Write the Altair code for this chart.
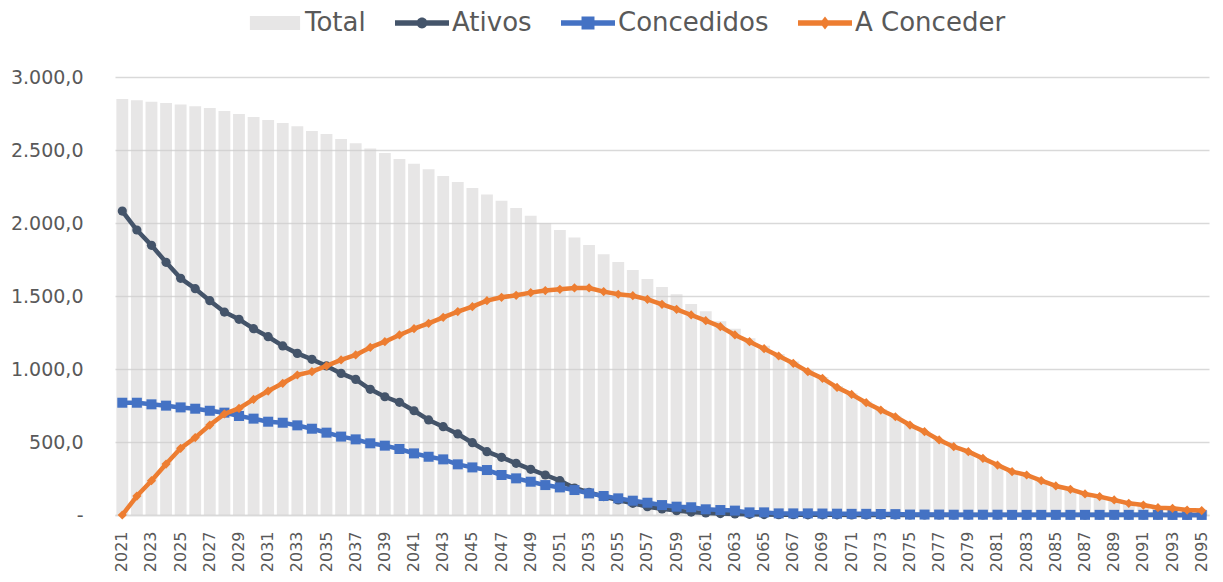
import altair as alt
import pandas as pd

years = list(range(2021, 2096))

total = [2849, 2840, 2831, 2822, 2811, 2799, 2788, 2767, 2747, 2726,
         2705, 2685, 2662, 2630, 2610, 2575, 2546, 2511, 2479, 2438,
         2406, 2368, 2322, 2281, 2240, 2196, 2153, 2103, 2050, 1998,
         1952, 1900, 1849, 1786, 1733, 1678, 1616, 1562, 1512, 1445,
         1395, 1327, 1276, 1210, 1160, 1102, 1052, 994, 946, 883,
         834, 777, 726, 679, 619, 574, 517, 470, 436, 390,
         344, 298, 275, 236, 200, 177, 145, 127, 104, 81,
         69, 51, 46, 34, 30]

ativos = [2082, 1952, 1847, 1731, 1621, 1550, 1468, 1390, 1340, 1276,
          1221, 1158, 1107, 1066, 1021, 970, 929, 861, 810, 772,
          714, 651, 605, 555, 495, 434, 395, 354, 313, 274,
          235, 185, 155, 126, 103, 80, 57, 42, 30, 20,
          14, 10, 7, 5, 3, 2, 2, 1, 1, 1,
          0.5, 0.5, 0.5, 0.5, 0, 0, 0, 0, 0, 0,
          0, 0, 0, 0, 0, 0, 0, 0, 0, 0,
          0, 0, 0, 0, 0]

concedidos = [769, 769, 758, 749, 737, 728, 714, 701, 678, 660,
              639, 632, 614, 591, 564, 537, 518, 491, 475, 452,
              422, 399, 381, 347, 326, 308, 274, 251, 228, 205,
              189, 171, 148, 130, 114, 98, 84, 68, 57, 53,
              39, 34, 30, 18, 18, 11, 11, 11, 10, 9,
              8, 8, 7, 6, 3, 3, 3, 2, 2, 2,
              2, 1, 1, 1, 1, 1, 1, 1, 1, 1,
              1, 1, 0.5, 0.5, 0.5]

a_conceder = [0, 130, 235, 349, 457, 530, 616, 692, 730, 792,
              849, 902, 959, 982, 1021, 1062, 1096, 1148, 1187, 1233,
              1276, 1313, 1354, 1393, 1427, 1468, 1491, 1505, 1523, 1537,
              1546, 1555, 1555, 1530, 1512, 1502, 1477, 1443, 1409, 1370,
              1331, 1290, 1233, 1187, 1139, 1089, 1039, 982, 936, 874,
              826, 769, 719, 673, 616, 571, 514, 468, 434, 388,
              342, 297, 274, 235, 199, 176, 144, 126, 103, 80,
              68, 50, 46, 34, 30]

series_names = ["Total", "Ativos", "Concedidos", "A Conceder"]
series_colors = ["#E7E6E6", "#44546A", "#4472C4", "#ED7D31"]

y_ticks = [0, 500, 1000, 1500, 2000, 2500, 3000]
y_tick_labels = ["-", "500,0", "1.000,0", "1.500,0", "2.000,0", "2.500,0", "3.000,0"]
x_tick_years = years[::2]

TEXT = "#595959"
GRID = "#D9D9D9"
FONT = "DejaVu Sans"

df = pd.DataFrame({"Ano": years, "Total": total, "Ativos": ativos,
                   "Concedidos": concedidos, "A Conceder": a_conceder})
long = df.melt("Ano", var_name="Série", value_name="Valor")

label_expr = "''"
for v, lab in zip(reversed(y_ticks), reversed(y_tick_labels)):
    label_expr = f"datum.value == {v} ? '{lab}' : ({label_expr})"

x_enc = alt.X("Ano:O",
              scale=alt.Scale(paddingInner=0.19, paddingOuter=0.095),
              axis=alt.Axis(values=x_tick_years, labelAngle=270, labelPadding=16,
                            labelFontSize=16, labelColor=TEXT, labelFont=FONT,
                            ticks=False, domain=True, domainColor=GRID,
                            domainWidth=1.5, grid=False, labelOverlap=False),
              title=None)
y_enc = alt.Y("Valor:Q",
              scale=alt.Scale(domain=[0, 3000], nice=False),
              axis=alt.Axis(values=y_ticks, labelExpr=label_expr, labelPadding=32,
                            labelFontSize=19, labelColor=TEXT, labelFont=FONT,
                            ticks=False, domain=False, grid=True, gridColor=GRID,
                            gridWidth=1.5),
              title=None)

bars = alt.Chart(long).transform_filter(alt.datum["Série"] == "Total").mark_bar(
    color="#CFCDCD", opacity=0.5).encode(x=x_enc, y=y_enc)

layers = [bars]
line_specs = [("Ativos", "#44546A", "circle", 85),
              ("Concedidos", "#4472C4", "square", 100),
              ("A Conceder", "#ED7D31", "diamond", 85)]
for name, col, shp, sz in line_specs:
    base = alt.Chart(long).transform_filter(alt.datum["Série"] == name)
    layers.append(base.mark_line(color=col, strokeWidth=4.5, strokeCap="round",
                                 strokeJoin="round").encode(x=x_enc, y=y_enc))
    layers.append(base.mark_point(shape=shp, filled=True, size=sz, color=col,
                                  opacity=1).encode(x=x_enc, y=y_enc))

rect = "M-1,-0.105H1V0.105H-1Z"
legend_paths = [
    "M-0.93,-0.26H0.93V0.26H-0.93Z",
    rect + "M0.2,0A0.2,0.2 0 1,1 -0.2,0A0.2,0.2 0 1,1 0.2,0Z",
    rect + "M-0.24,-0.24H0.24V0.24H-0.24Z",
    rect + "M0,-0.24L0.19,0L0,0.24L-0.19,0Z",
]

leg = alt.Legend(orient="none", legendX=133, legendY=-81, direction="horizontal",
                 columns=4, symbolSize=2916, symbolStrokeWidth=0, symbolOpacity=1,
                 labelFont=FONT, labelFontSize=26, labelColor=TEXT, labelOffset=3,
                 columnPadding=29, title=None, padding=0, labelLimit=300)

legend_layer = alt.Chart(long).mark_point(filled=True, opacity=0).encode(
    x=x_enc, y=y_enc,
    color=alt.Color("Série:N", scale=alt.Scale(domain=series_names, range=series_colors),
                    legend=leg),
    shape=alt.Shape("Série:N", scale=alt.Scale(domain=series_names, range=legend_paths),
                    legend=leg),
)
layers.append(legend_layer)

chart = alt.layer(*layers).properties(
    width=1094, height=438,
    padding={"left": 107, "top": 69, "right": 6, "bottom": 59},
    autosize=alt.AutoSizeParams(type="none"),
).configure(font=FONT).configure_view(stroke=None)

chart.save("out.html", embed_options={"renderer": "svg", "actions": False})
